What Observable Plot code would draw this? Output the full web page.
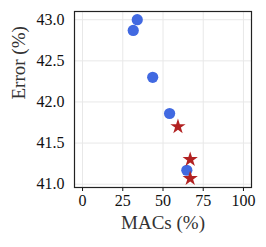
<!DOCTYPE html>
<html><head><meta charset="utf-8">
<script src="https://cdn.jsdelivr.net/npm/d3@7"></script>
<script src="https://cdn.jsdelivr.net/npm/@observablehq/plot@0.6"></script>
<style>body{margin:0;background:#fff}</style>
</head><body><div id="chart"></div>
<script>
const baselineMacs = [34.0, 31.5, 43.6, 54.1, 64.8];
const baselineError = [43.00, 42.87, 42.30, 41.86, 41.17];
const oursMacs = [59.3, 66.9, 66.9];
const oursError = [41.70, 41.30, 41.07];
const xTicks = [0, 25, 50, 75, 100];
const yTicks = [41.0, 41.5, 42.0, 42.5, 43.0];
const xLabel = "MACs (%)";
const yLabel = "Error (%)";

const baseline = baselineMacs.map((m, i) => ({macs: m, error: baselineError[i]}));
const ours = oursMacs.map((m, i) => ({macs: m, error: oursError[i]}));
const font = "'Liberation Serif', 'DejaVu Serif', serif";

const chart = Plot.plot({
  width: 266, height: 247,
  marginLeft: 74, marginRight: 15, marginTop: 11, marginBottom: 60,
  style: {fontFamily: font, background: "#fff", color: "#111"},
  x: {domain: [-5, 105]},
  y: {domain: [40.96, 43.10]},
  marks: [
    Plot.gridX(xTicks, {stroke: "#e8e8e8", strokeOpacity: 1}),
    Plot.gridY(yTicks, {stroke: "#e8e8e8", strokeOpacity: 1}),
    Plot.axisX(xTicks, {label: null, tickSize: 4, tickPadding: 3, fontSize: 16, tickFormat: d => String(d)}),
    Plot.axisY(yTicks, {label: null, tickSize: 0, tickPadding: 10, fontSize: 16, tickFormat: d => d.toFixed(1)}),
    Plot.dot(baseline, {x: "macs", y: "error", r: 5.6, fill: "#4169E1", stroke: "none"}),
    Plot.dot(ours, {x: "macs", y: "error", r: 4.8, symbol: "star", fill: "#B22222", stroke: "none"}),
    Plot.frame({stroke: "#222", strokeWidth: 1.2}),
    Plot.text([xLabel], {frameAnchor: "bottom", text: d => d, dy: 35, fontSize: 19, lineAnchor: "middle", fill: "#333"}),
    Plot.text([yLabel], {frameAnchor: "left", text: d => d, dx: -56, rotate: -90, fontSize: 19, lineAnchor: "middle", fill: "#333"})
  ]
});
document.getElementById("chart").appendChild(chart);
</script>
</body></html>
